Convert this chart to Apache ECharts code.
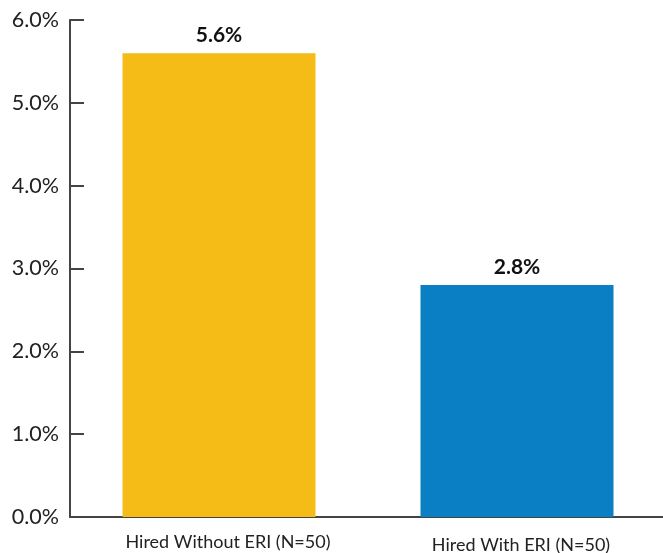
<!DOCTYPE html>
<html><head><meta charset="utf-8">
<script src="https://cdn.jsdelivr.net/npm/echarts@6/dist/echarts.min.js"></script>
<style>html,body{margin:0;padding:0;background:#fff}#c{width:663px;height:553px}</style>
</head><body><div id="c"></div>
<script>
const categories = ['Hired Without ERI (N=50)', 'Hired With ERI (N=50)'];
const values = [5.6, 2.8];
const colors = ['#F5BC17', '#0B7FC4'];
const yTicks = [0, 1, 2, 3, 4, 5, 6];
const labelPads = [[0, 0, 0, 18], [3, 0, 0, 8]];

const chart = echarts.init(document.getElementById('c'));
chart.setOption({
  animation: false,
  grid: { left: 70, right: -3, top: 20, bottom: 36, outerBoundsMode: 'none', containLabel: false },
  xAxis: {
    type: 'category',
    data: categories.map((c, i) => ({ value: c, textStyle: { padding: labelPads[i] } })),
    axisLine: { lineStyle: { color: '#444', width: 2 } },
    axisTick: { inside: true, length: 12, lineStyle: { color: '#444', width: 2 } },
    axisLabel: { fontFamily: 'Lato', fontSize: 18, color: '#222', margin: 16 }
  },
  yAxis: {
    type: 'value', min: yTicks[0], max: yTicks[yTicks.length - 1], interval: 1,
    axisLine: { show: true, lineStyle: { color: '#444', width: 2 } },
    axisTick: { show: true, inside: true, length: 14, lineStyle: { color: '#444', width: 2 } },
    splitLine: { show: false },
    axisLabel: { fontFamily: 'Lato', fontSize: 21.5, color: '#222', margin: 11, formatter: v => v.toFixed(1) + '%' }
  },
  series: [{
    type: 'bar',
    barWidth: 193,
    data: values.map((v, i) => ({ value: v, itemStyle: { color: colors[i] } })),
    label: {
      show: true, position: 'top', distance: 7,
      fontFamily: 'Lato', fontWeight: 'bold', fontSize: 21, color: '#111',
      formatter: p => p.value.toFixed(1) + '%'
    }
  }]
});
</script>
</body></html>
